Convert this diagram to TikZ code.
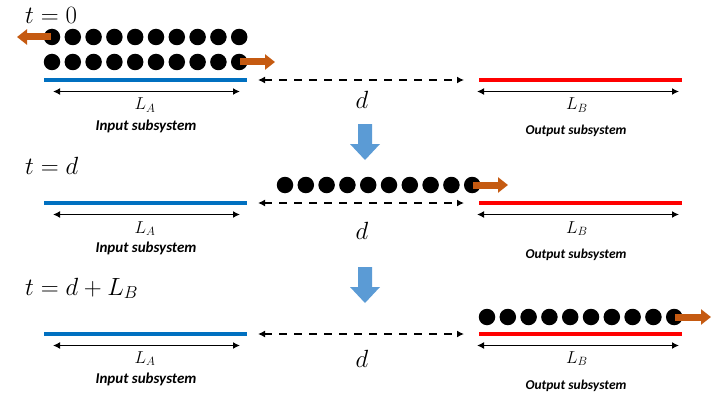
\documentclass[tikz,border=0pt]{standalone}
\usepackage{fontspec}
\newfontfamily\calibfont{Carlito}
\usetikzlibrary{arrows.meta}
\definecolor{inblue}{HTML}{0070C0}
\definecolor{outred}{HTML}{FF0000}
\definecolor{flowc}{HTML}{C55A11}
\definecolor{stepblue}{HTML}{5B9BD5}
\begin{document}
\begin{tikzpicture}[x=1pt,y=-1pt,
  bar/.style={line width=4.2pt},
  span/.style={line width=1.8pt, {Latex[length=7pt,width=7pt]}-{Latex[length=7pt,width=7pt]}},
  gap/.style={line width=2pt, dash pattern=on 8pt off 7pt, {Latex[length=7pt,width=7pt]}-{Latex[length=7pt,width=7pt]}},
  particle/.style={circle, fill=black, minimum size=16.5pt, inner sep=0pt},
  flowarrow/.style={flowc, line width=7pt, -{Triangle[length=10pt,width=15pt]}},
  timelbl/.style={anchor=base west, inner sep=0pt, font=\fontsize{27}{30}\selectfont},
  distlbl/.style={anchor=base, inner sep=0pt, font=\fontsize{32}{36}\selectfont},
  lenlbl/.style={anchor=base, inner sep=0pt, font=\fontsize{18}{21}\selectfont},
  inlbl/.style={anchor=base, inner sep=0pt, font=\calibfont\bfseries\itshape\fontsize{15}{18}\selectfont},
  outlbl/.style={anchor=base, inner sep=0pt, font=\calibfont\bfseries\itshape\fontsize{13.5}{16}\selectfont},
  stepfill/.style={fill=stepblue}
]
\useasboundingbox (0,0) rectangle (726,396);

% ---------- generic panel geometry (y of bar) ----------
\foreach \p/\y in {1/80, 2/203, 3/334}{
  \coordinate (inL\p) at (44,\y);
  \coordinate (inR\p) at (247,\y);
  \coordinate (outL\p) at (479,\y);
  \coordinate (outR\p) at (682,\y);
  \coordinate (gapL\p) at (258,\y);
  \coordinate (gapR\p) at (464,\y);
  \coordinate (spanAL\p) at (53,\y+11.5);
  \coordinate (spanAR\p) at (240,\y+11.5);
  \coordinate (spanBL\p) at (477,\y+11.5);
  \coordinate (spanBR\p) at (679,\y+11.5);
  \draw[bar, inblue] (inL\p) -- (inR\p);
  \draw[bar, outred] (outL\p) -- (outR\p);
  \draw[gap] (gapL\p) -- (gapR\p);
  \draw[span] (spanAL\p) -- (spanAR\p);
  \draw[span] (spanBL\p) -- (spanBR\p);
}

% ---------- labels ----------
\node[timelbl] (t1) at (25,24) {$t=0$};
\node[timelbl] (t2) at (25,174) {$t=d$};
\node[timelbl] (t3) at (25,295) {$t=d+L_B$};

\node[distlbl] (d1) at (362,108) {$d$};
\node[distlbl] (d2) at (362,239) {$d$};
\node[distlbl] (d3) at (362,367) {$d$};

\node[lenlbl] (la1) at (145,110) {$L_A$};
\node[lenlbl] (la2) at (145,233) {$L_A$};
\node[lenlbl] (la3) at (145,363) {$L_A$};
\node[lenlbl] (lb1) at (577,110) {$L_B$};
\node[lenlbl] (lb2) at (577,233) {$L_B$};
\node[lenlbl] (lb3) at (577,363) {$L_B$};

\node[inlbl] (in1) at (146,130) {Input subsystem};
\node[inlbl] (in2) at (146,252) {Input subsystem};
\node[inlbl] (in3) at (146,383) {Input subsystem};
\node[outlbl] (out1) at (576,135) {Output subsystem};
\node[outlbl] (out2) at (576,258) {Output subsystem};
\node[outlbl] (out3) at (576,389) {Output subsystem};

% ---------- particles ----------
\foreach \i in {0,...,9}{
  \node[particle] (pa\i) at (52+20.8*\i, 37) {};
  \node[particle] (pb\i) at (52+20.8*\i, 62) {};
  \node[particle] (pc\i) at (285+20.8*\i, 185) {};
  \node[particle] (pd\i) at (487+20.8*\i, 317) {};
}

% ---------- orange flow arrows ----------
\coordinate (fa) at (17,37);
\coordinate (fb) at (275,62);
\coordinate (fc) at (508,185);
\coordinate (fd) at (711,317);
\draw[flowarrow] ([xshift=-1pt]pa0.center) -- (fa);
\draw[flowarrow] ([xshift=1pt]pb9.center) -- (fb);
\draw[flowarrow] ([xshift=1pt]pc9.center) -- (fc);
\draw[flowarrow] ([xshift=1pt]pd9.center) -- (fd);

% ---------- blue step arrows ----------
\coordinate (s1) at (365,124);
\coordinate (s2) at (365,267);
\foreach \s/\h in {s1/20, s2/20}{
  \fill[stepfill] ([xshift=-7pt]\s) -- ([xshift=7pt]\s) -- ([xshift=7pt,yshift=-\h pt]\s)
    -- ([xshift=15pt,yshift=-\h pt]\s) -- ([yshift=-\h pt-16pt]\s)
    -- ([xshift=-15pt,yshift=-\h pt]\s) -- ([xshift=-7pt,yshift=-\h pt]\s) -- cycle;
}
\end{tikzpicture}
\end{document}
